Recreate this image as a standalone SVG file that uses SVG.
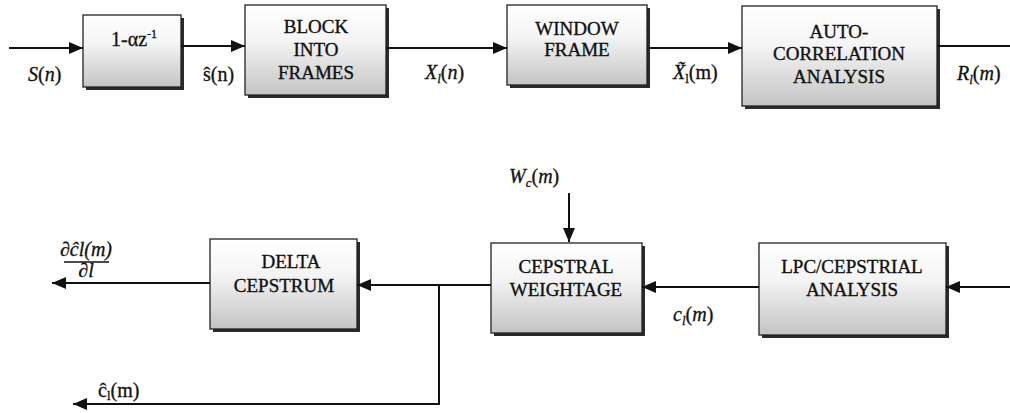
<svg xmlns="http://www.w3.org/2000/svg" width="1010" height="413" viewBox="0 0 1010 413">
  <style>
    .box { fill: url(#fade); stroke: #222; stroke-width: 1.3; }
    .shadow { fill: #2a2a2a; }
    .label { font-family: "Liberation Serif", "Times New Roman", serif; font-size: 19px; fill: #111; stroke: #111; stroke-width: 0.35; text-anchor: middle; }
    .math { font-family: "Liberation Serif", "Times New Roman", serif; font-size: 20px; fill: #111; stroke: #111; stroke-width: 0.3; }
    .it { font-style: italic; }
    .wire { fill: none; stroke: #111; stroke-width: 2; }
  </style>
  <defs>
    <linearGradient id="fade" x1="0" y1="0" x2="0" y2="1">
      <stop offset="0" stop-color="#ffffff"/>
      <stop offset="0.4" stop-color="#f4f4f4"/>
      <stop offset="1" stop-color="#c4c4c4"/>
    </linearGradient>
    <marker id="arrow" viewBox="0 0 14 12" refX="14" refY="6" markerWidth="14" markerHeight="12" markerUnits="userSpaceOnUse" orient="auto">
      <path d="M0,0 L14,6 L0,12 Z" fill="#111"/>
    </marker>
  </defs>

  <!-- processing blocks -->
  <g id="preemphasis">
    <rect class="shadow" x="86" y="18" width="98" height="72"/>
    <rect class="box" x="83" y="15" width="98" height="72"/>
    <text class="math" x="111" y="46">1-αz<tspan font-size="12" dy="-8">-1</tspan></text>
  </g>
  <g id="block-frames">
    <rect class="shadow" x="248" y="8" width="141" height="90"/>
    <rect class="box" x="245" y="5" width="141" height="90"/>
    <text class="label" x="316" y="33">BLOCK</text>
    <text class="label" x="316" y="56">INTO</text>
    <text class="label" x="316" y="79">FRAMES</text>
  </g>
  <g id="window-frame">
    <rect class="shadow" x="510" y="8" width="140" height="80"/>
    <rect class="box" x="507" y="5" width="140" height="80"/>
    <text class="label" x="577" y="35">WINDOW</text>
    <text class="label" x="577" y="56">FRAME</text>
  </g>
  <g id="autocorrelation">
    <rect class="shadow" x="745" y="9" width="195" height="100"/>
    <rect class="box" x="742" y="6" width="195" height="100"/>
    <text class="label" x="839" y="38">AUTO-</text>
    <text class="label" x="839" y="60">CORRELATION</text>
    <text class="label" x="839" y="83">ANALYSIS</text>
  </g>
  <g id="lpc-cepstral">
    <rect class="shadow" x="762" y="246" width="187" height="92"/>
    <rect class="box" x="759" y="243" width="187" height="92"/>
    <text class="label" x="852" y="273">LPC/CEPSTRIAL</text>
    <text class="label" x="852" y="296">ANALYSIS</text>
  </g>
  <g id="cepstral-weightage">
    <rect class="shadow" x="494" y="246" width="151" height="90"/>
    <rect class="box" x="491" y="243" width="151" height="90"/>
    <text class="label" x="566" y="273">CEPSTRAL</text>
    <text class="label" x="566" y="296">WEIGHTAGE</text>
  </g>
  <g id="delta-cepstrum">
    <rect class="shadow" x="213" y="242" width="147" height="90"/>
    <rect class="box" x="210" y="239" width="147" height="90"/>
    <text class="label" x="291" y="268">DELTA</text>
    <text class="label" x="284" y="292">CEPSTRUM</text>
  </g>

  <!-- signal paths -->
  <g id="connectors">
    <path class="wire" d="M9,48 H83" marker-end="url(#arrow)"/>
    <path class="wire" d="M181,46 H245" marker-end="url(#arrow)"/>
    <path class="wire" d="M386,48 H507" marker-end="url(#arrow)"/>
    <path class="wire" d="M647,48 H742" marker-end="url(#arrow)"/>
    <path class="wire" d="M937,46 H1010"/>
    <path class="wire" d="M1010,287 H946" marker-end="url(#arrow)"/>
    <path class="wire" d="M759,287 H642" marker-end="url(#arrow)"/>
    <path class="wire" d="M491,285 H357" marker-end="url(#arrow)"/>
    <path class="wire" d="M439,285 V404 H73" marker-end="url(#arrow)"/>
    <path class="wire" d="M210,283 H52" marker-end="url(#arrow)"/>
    <path class="wire" d="M569,193 V242" marker-end="url(#arrow)"/>
  </g>

  <!-- signal labels -->
  <g id="signal-labels">
    <text class="math" x="28" y="81"><tspan class="it">S</tspan>(<tspan class="it">n</tspan>)</text>
    <text class="math" x="203" y="81">ŝ(n)</text>
    <text class="math" x="425" y="79"><tspan class="it">X</tspan><tspan class="it" font-size="13" dy="4">l</tspan><tspan dy="-4">(</tspan><tspan class="it">n</tspan>)</text>
    <text class="math" x="673" y="79"><tspan class="it">X̃</tspan><tspan font-size="13" dy="4">l</tspan><tspan dy="-4">(m)</tspan></text>
    <text class="math" x="957" y="80"><tspan class="it">R</tspan><tspan class="it" font-size="13" dy="4">l</tspan><tspan dy="-4">(</tspan><tspan class="it">m</tspan>)</text>
    <text class="math" x="509" y="183"><tspan class="it">W</tspan><tspan class="it" font-size="13" dy="4">c</tspan><tspan dy="-4">(</tspan><tspan class="it">m</tspan>)</text>
    <text class="math" x="673" y="321"><tspan class="it">c</tspan><tspan class="it" font-size="13" dy="4">l</tspan><tspan dy="-4">(</tspan><tspan class="it">m</tspan>)</text>
    <text class="math" x="98" y="397">ĉ<tspan font-size="13" dy="3">l</tspan><tspan dy="-3">(m)</tspan></text>
    <!-- derivative label drawn as a stacked fraction -->
    <text class="math it" x="86" y="256" font-size="13" text-anchor="middle">∂ĉl(m)</text>
    <line x1="64" y1="262" x2="109" y2="262" stroke="#111" stroke-width="1.3"/>
    <text class="math it" x="86" y="277" font-size="13" text-anchor="middle">∂l</text>
  </g>
</svg>
